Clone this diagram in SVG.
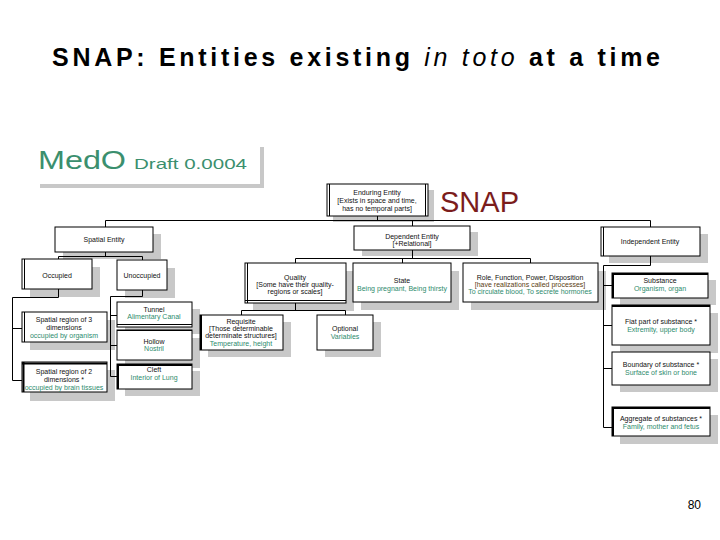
<svg xmlns="http://www.w3.org/2000/svg" width="720" height="540" viewBox="0 0 720 540">
<style>
.t{font-family:"Liberation Sans",Arial,sans-serif;font-size:7px;fill:#111;text-anchor:middle}
.g{fill:#2e8b6e}
.br{fill:#5a4010}
.box{fill:#fff;stroke:#000;stroke-width:1}
.sh{fill:#c8c8c8}
.ln{stroke:#000;stroke-width:1;fill:none}
.dl{stroke:#000;stroke-width:1;fill:none}
</style>
<rect x="0" y="0" width="720" height="540" fill="#fff"/>
<text x="52" y="66" font-family="'Liberation Sans',Arial,sans-serif" font-size="25" font-weight="bold" fill="#000" textLength="608" lengthAdjust="spacing">SNAP: Entities existing <tspan font-style="italic" font-weight="normal">in toto</tspan> at a time</text>

<g id="medo">
<rect x="40" y="147" width="224" height="41" class="sh"/>
<rect x="36" y="143" width="224" height="41" fill="#fff"/>
<text x="38" y="169" font-family="'Liberation Sans',Arial,sans-serif" font-size="26" fill="#3b8f6e" textLength="88" lengthAdjust="spacingAndGlyphs">MedO</text>
<text x="134" y="169" font-family="'Liberation Sans',Arial,sans-serif" font-size="15" fill="#3b8f6e" textLength="113" lengthAdjust="spacingAndGlyphs">Draft 0.0004</text>
</g>
<text id="snap" x="440" y="212" font-family="'Liberation Sans',Arial,sans-serif" font-size="29" fill="#7b1c1c">SNAP</text>

<g id="nodes">
<g id="enduring">
<rect x="333" y="190" width="101" height="32" class="sh"/>
<rect x="327" y="184" width="101" height="32" class="box"/>
<path d="M329.5 184V216M425.5 184V216" class="dl"/>
<text x="377" y="195" class="t">Enduring Entity</text>
<text x="377" y="203" class="t">[Exists in space and time,</text>
<text x="377" y="211" class="t">has no temporal parts]</text>
</g>
<g id="spatial">
<rect x="63" y="234" width="98" height="25" class="sh"/>
<rect x="55" y="227" width="98" height="25" class="box"/>
<text x="104" y="242" class="t">Spatial Entity</text>
</g>
<g id="dependent">
<rect x="362" y="232" width="116" height="24" class="sh"/>
<rect x="354" y="226" width="116" height="24" class="box"/>
<text x="412" y="239" class="t">Dependent Entity</text>
<text x="412" y="246" class="t">[+Relational]</text>
</g>
<g id="independent">
<rect x="609" y="234" width="99" height="29" class="sh"/>
<rect x="601" y="227" width="99" height="29" class="box"/>
<path d="M603.5 227V256" class="dl"/>
<text x="650" y="244" class="t">Independent Entity</text>
</g>
<g id="occupied">
<rect x="30" y="267" width="70" height="30" class="sh"/>
<rect x="22" y="259" width="70" height="30" class="box"/>
<path d="M24.5 259V289" class="dl"/>
<text x="57" y="278" class="t">Occupied</text>
</g>
<g id="unoccupied">
<rect x="125" y="268" width="50" height="30" class="sh"/>
<rect x="117" y="260" width="50" height="30" class="box"/>
<text x="142" y="278" class="t">Unoccupied</text>
</g>
<g id="quality">
<rect x="253" y="271" width="101" height="40" class="sh"/>
<rect x="245" y="263" width="101" height="40" class="box"/>
<path d="M247.5 263V303M245 300.5H346" class="dl"/>
<text x="295" y="280" class="t">Quality</text>
<text x="295" y="287" class="t">[Some have their quality-</text>
<text x="295" y="294" class="t">regions or scales]</text>
</g>
<g id="state">
<rect x="361" y="271" width="98" height="39" class="sh"/>
<rect x="353" y="263" width="98" height="39" class="box"/>
<text x="402" y="283" class="t">State</text>
<text x="402" y="291" class="t g">Being pregnant, Being thirsty</text>
</g>
<g id="role">
<rect x="471" y="271" width="135" height="39" class="sh"/>
<rect x="463" y="263" width="135" height="39" class="box"/>
<text x="530" y="280" class="t">Role, Function, Power, Disposition</text>
<text x="530" y="287" class="t br">[have realizations called processes]</text>
<text x="530" y="294" class="t g">To circulate blood, To secrete hormones</text>
</g>
<g id="region3">
<rect x="30" y="320" width="85" height="30" class="sh"/>
<rect x="22" y="312" width="85" height="30" class="box"/>
<path d="M24.5 312V342" class="dl"/>
<text x="64" y="322" class="t">Spatial region of 3</text>
<text x="64" y="330" class="t">dimensions</text>
<text x="64" y="338" class="t g">occupied by organism</text>
</g>
<g id="region2">
<rect x="30" y="370" width="85" height="31" class="sh"/>
<rect x="22" y="362" width="85" height="30" class="box"/>
<path d="M22 363.5H107M23.5 362V392" stroke="#000" stroke-width="2" fill="none"/>
<text x="64" y="374" class="t">Spatial region of 2</text>
<text x="64" y="382" class="t">dimensions *</text>
<text x="64" y="390" class="t g">occupied by brain tissues</text>
</g>
<g id="tunnel">
<rect x="125" y="309" width="75" height="25" class="sh"/>
<rect x="117" y="302" width="75" height="25" class="box"/>
<path d="M117 324.5H192" class="dl"/>
<text x="154" y="312" class="t">Tunnel</text>
<text x="154" y="319" class="t g">Alimentary Canal</text>
</g>
<g id="hollow">
<rect x="125" y="338" width="75" height="30" class="sh"/>
<rect x="117" y="330" width="75" height="30" class="box" stroke="#2e8b6e"/>
<path d="M117 330.5H192" class="dl"/>
<text x="154" y="344" class="t" font-size="8">Hollow</text>
<text x="154" y="351" class="t g">Nostril</text>
</g>
<g id="cleft">
<rect x="125" y="371" width="75" height="25" class="sh"/>
<rect x="117" y="364" width="75" height="25" class="box"/>
<path d="M117 365H192M118 364V389" stroke="#000" stroke-width="2" fill="none"/>
<text x="154" y="372" class="t">Cleft</text>
<text x="154" y="380" class="t g">Interior of Lung</text>
</g>
<g id="requisite">
<rect x="208" y="322" width="83" height="35" class="sh"/>
<rect x="200" y="315" width="83" height="35" class="box"/>
<path d="M201 315V350" stroke="#000" stroke-width="2" fill="none"/>
<text x="241" y="324" class="t">Requisite</text>
<text x="241" y="331" class="t">[Those determinable</text>
<text x="241" y="338" class="t">determinate structures]</text>
<text x="241" y="346" class="t g">Temperature, height</text>
</g>
<g id="optional">
<rect x="325" y="322" width="56" height="35" class="sh"/>
<rect x="317" y="315" width="56" height="35" class="box"/>
<text x="345" y="331" class="t">Optional</text>
<text x="345" y="339" class="t g">Variables</text>
</g>
<g id="substance">
<rect x="620" y="280" width="96" height="25" class="sh"/>
<rect x="612" y="273" width="96" height="25" class="box"/>
<path d="M612 274H708M613 273V298" stroke="#000" stroke-width="2" fill="none"/>
<text x="660" y="283" class="t">Substance</text>
<text x="660" y="291" class="t g">Organism, organ</text>
</g>
<g id="fiat">
<rect x="620" y="313" width="98" height="40" class="sh"/>
<rect x="612" y="305" width="98" height="40" class="box"/>
<path d="M612 306H710" stroke="#000" stroke-width="2" fill="none"/>
<text x="661" y="324" class="t">Fiat part of substance *</text>
<text x="661" y="332" class="t g">Extremity, upper body</text>
</g>
<g id="boundary">
<rect x="620" y="359" width="98" height="33" class="sh"/>
<rect x="612" y="352" width="98" height="33" class="box"/>
<text x="661" y="367" class="t">Boundary of substance *</text>
<text x="661" y="375" class="t g">Surface of skin or bone</text>
</g>
<g id="aggregate">
<rect x="620" y="415" width="98" height="29" class="sh"/>
<rect x="612" y="407" width="98" height="29" class="box"/>
<path d="M612 408H710M613 407V436" stroke="#000" stroke-width="2" fill="none"/>
<text x="661" y="421" class="t">Aggregate of substances *</text>
<text x="661" y="429" class="t g">Family, mother and fetus</text>
</g>
</g>

<g id="connectors">
<path class="ln" d="M377.5 216V220.5M105.5 220.5H650.5M105.5 220.5V227M412.5 220.5V226M650.5 220.5V227"/>
<path class="ln" d="M105.5 252V256.5M58.5 256.5H142.5M58.5 256.5V259M142.5 256.5V260"/>
<path class="ln" d="M58.5 289V297.5M12.5 297.5H58.5M12.5 297.5V380.5M12.5 328.5H22M12.5 380.5H22"/>
<path class="ln" d="M142.5 290V296.5M110.5 296.5H142.5M110.5 296.5V376.5M110.5 315.5H117M110.5 345.5H117M110.5 376.5H117"/>
<path class="ln" d="M412.5 250V258.5M295.5 258.5H530.5M295.5 258.5V263M402.5 258.5V263M530.5 258.5V263"/>
<path class="ln" d="M295.5 303V310.5M241.5 310.5H345.5M241.5 310.5V315M345.5 310.5V315"/>
<path class="ln" d="M650.5 256V265.5M603.5 265.5H650.5M603.5 265.5V427.5M603.5 285.5H612M603.5 325.5H612M603.5 368.5H612M603.5 427.5H612"/>
</g>
<text x="701" y="509" font-family="'Liberation Sans',Arial,sans-serif" font-size="12" text-anchor="end" fill="#000">80</text>
</svg>
